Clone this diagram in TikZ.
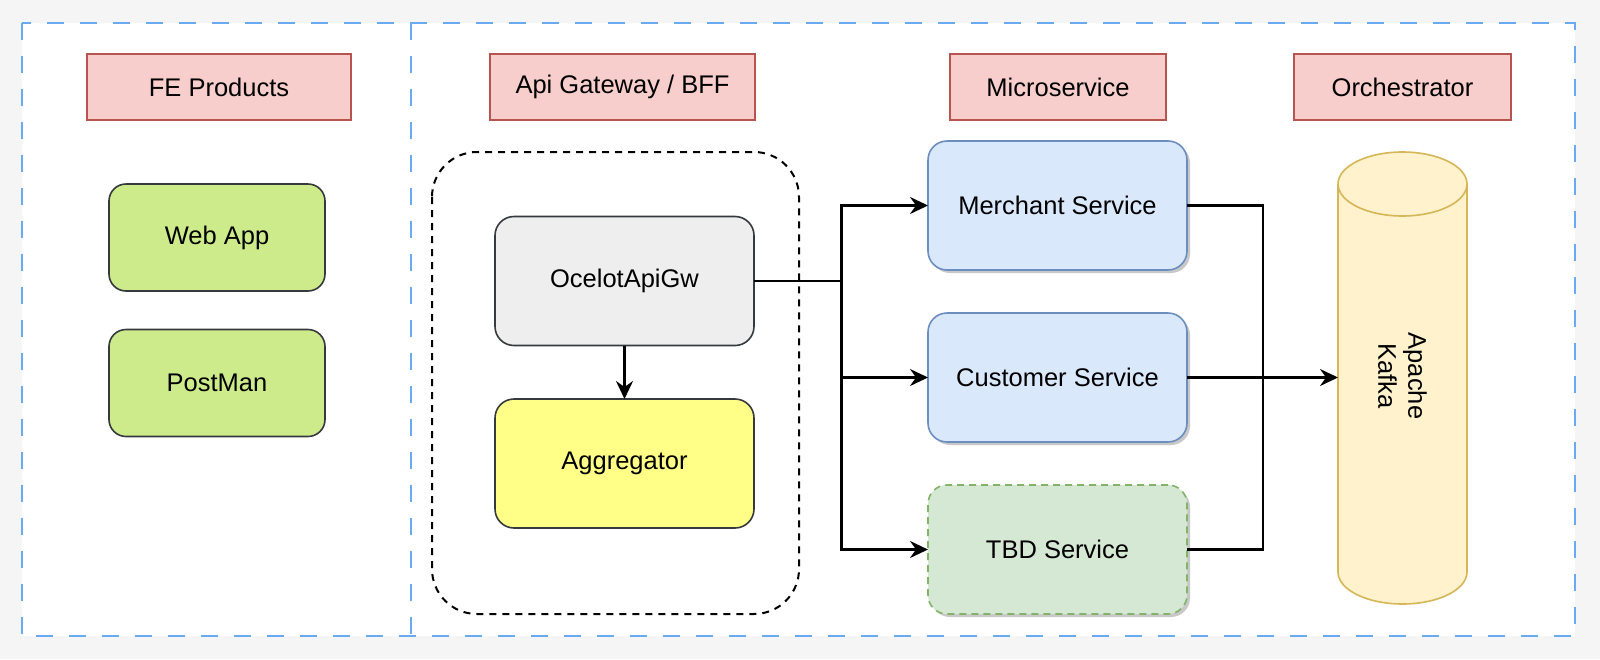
\documentclass[tikz,border=0pt]{standalone}
\usepackage{fontspec}
\setmainfont{Liberation Sans}
\usetikzlibrary{arrows.meta,shadows}
\definecolor{pagebg}{HTML}{F5F5F5}
\definecolor{framecol}{HTML}{6AAAF0}
\definecolor{hdrfill}{HTML}{F8CECC}
\definecolor{hdrline}{HTML}{B85450}
\definecolor{darkline}{HTML}{36393D}
\definecolor{webfill}{HTML}{CDEB8B}
\definecolor{ocfill}{HTML}{EEEEEE}
\definecolor{aggfill}{HTML}{FFFF88}
\definecolor{msfill}{HTML}{DAE8FC}
\definecolor{msline}{HTML}{6C8EBF}
\definecolor{tbdfill}{HTML}{D5E8D4}
\definecolor{tbdline}{HTML}{82B366}
\definecolor{kfill}{HTML}{FFF2CC}
\definecolor{kline}{HTML}{D6B656}
\tikzset{
  hdr/.style={draw=hdrline, fill=hdrfill, line width=1.6pt, minimum height=66pt, inner sep=0pt, outer sep=0pt},
  basebox/.style={rounded corners=19pt, line width=1.6pt, inner sep=0pt, outer sep=0pt, minimum width=259pt, minimum height=129pt},
  webbox/.style={basebox, draw=darkline, fill=webfill, rounded corners=17pt, minimum width=216pt, minimum height=107pt},
  ocbox/.style={basebox, draw=darkline, fill=ocfill},
  aggbox/.style={basebox, draw=darkline, fill=aggfill},
  msbox/.style={basebox, draw=msline, fill=msfill, drop shadow={shadow xshift=3pt, shadow yshift=-3pt, opacity=0.3, fill=black!70}},
  tbdbox/.style={basebox, draw=tbdline, fill=tbdfill, dash pattern=on 7pt off 5pt, drop shadow={shadow xshift=3pt, shadow yshift=-3pt, opacity=0.3, fill=black!70}},
  framestyle/.style={draw=framecol, line width=2.2pt, dash pattern=on 17pt off 16pt},
  grpstyle/.style={draw=black, line width=2pt, dash pattern=on 7pt off 6pt, rounded corners=45pt},
  conn/.style={draw=black, line width=2.2pt},
  arr/.style={conn, -{Stealth[length=18pt, width=17pt, inset=6pt]}},
}
\begin{document}
\begin{tikzpicture}[x=1pt, y=-1pt, font=\fontsize{25.5}{30}\selectfont]
\useasboundingbox (0,0) rectangle (1600,659);
\fill[pagebg] (0,0) rectangle (1600,659);
\fill[white] (22,23) rectangle (1575,636);
\draw[framestyle] (22,23) rectangle (1575,636);
\draw[framestyle] (411,23) -- (411,636);

% headers
\node[hdr, minimum width=264pt] (hFE) at (219,87) {FE Products};
\node[hdr, minimum width=265pt] (hApi) at (622.5,87) {Api Gateway / BFF};
\node[hdr, minimum width=216pt] (hMS) at (1058,87) {Microservice};
\node[hdr, minimum width=217pt] (hOrch) at (1402.5,87) {Orchestrator};

% FE products
\node[webbox] (web) at (217,237.5) {Web App};
\node[webbox] (post) at (217,383) {PostMan};

% api gateway group
\draw[grpstyle] (432,152) rectangle (799,614);
\node[ocbox] (oc) at (624.5,281) {OcelotApiGw};
\node[aggbox] (agg) at (624.5,463.5) {Aggregator};

% microservices
\node[msbox] (merch) at (1057.5,205.5) {Merchant Service};
\node[msbox] (cust) at (1057.5,377.5) {Customer Service};
\node[tbdbox] (tbd) at (1057.5,549.5) {TBD Service};

% kafka cylinder
\node[minimum width=129pt, minimum height=452pt, inner sep=0pt, outer sep=0pt] (kafkabody) at (1402.5,377.5) {};
\filldraw[fill=kfill, draw=kline, line width=1.6pt]
  (1338,184) -- (1338,572) arc[start angle=180, end angle=0, x radius=64.5, y radius=32]
  -- (1467,184) arc[start angle=0, end angle=-180, x radius=64.5, y radius=32] -- cycle;
\draw[draw=kline, line width=1.6pt] (1338,184) arc[start angle=180, end angle=0, x radius=64.5, y radius=32];
\node[rotate=-90, align=center, inner sep=0pt] (kafka) at (1402.5,376) {Apache\\Kafka};

% connectors
\coordinate (j) at (841.5,281);
\coordinate (k) at (1263,377.5);
\draw[arr] (oc.south) -- (agg.north);
\draw[conn] (oc.east) -- (j);
\draw[arr] (j) |- (merch.west);
\draw[arr] (j) |- (cust.west);
\draw[arr] (j) |- (tbd.west);
\draw[conn] (merch.east) -| (k);
\draw[conn] (tbd.east) -| (k);
\draw[arr] (cust.east) -- (kafkabody.west);
\end{tikzpicture}
\end{document}
